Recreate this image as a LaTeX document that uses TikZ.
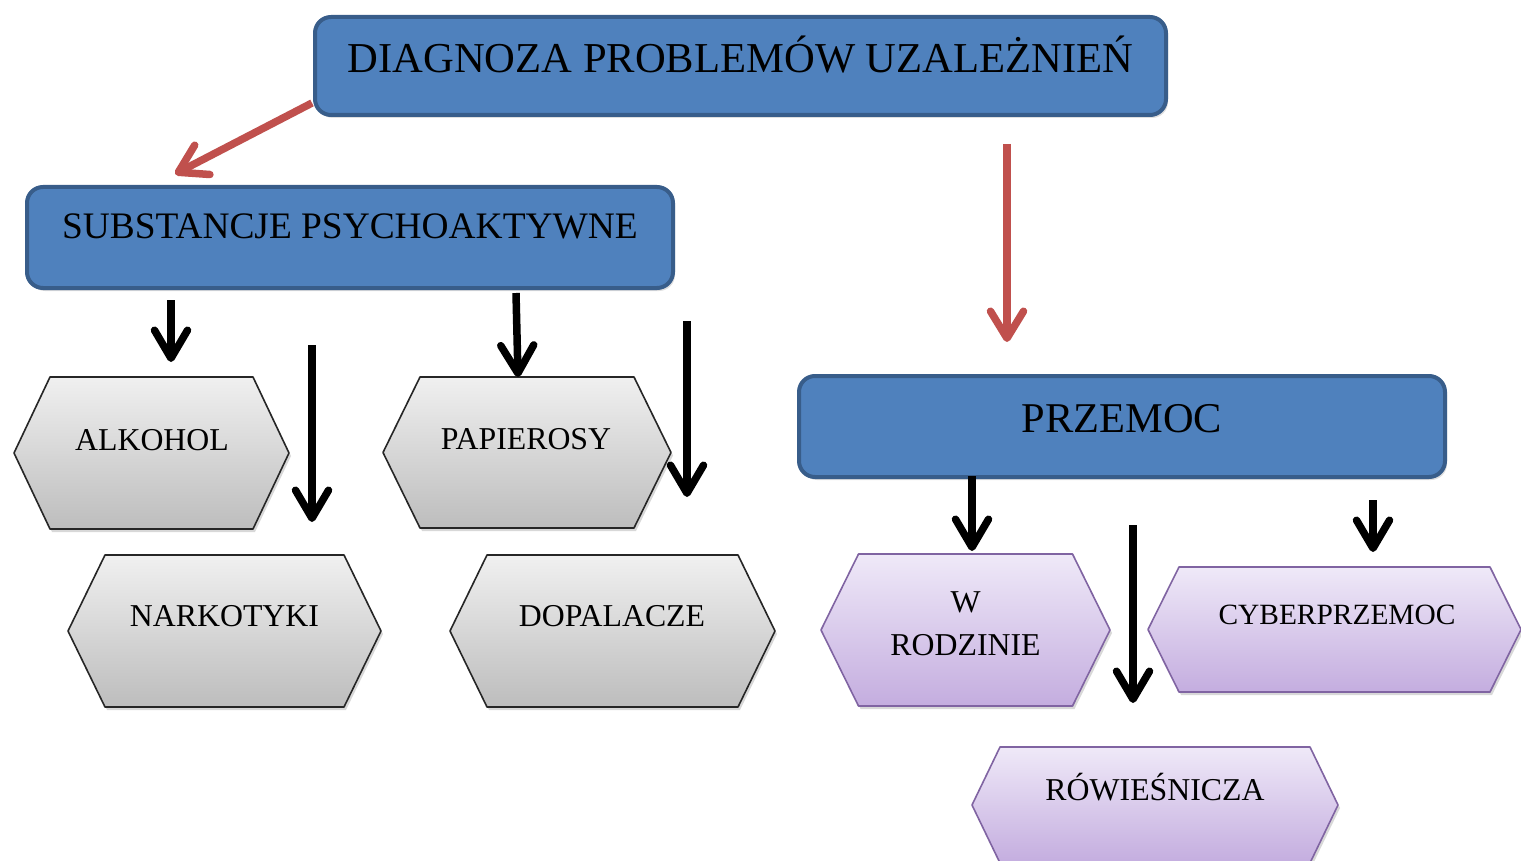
\documentclass[tikz,border=0pt]{standalone}
\usepackage{fontspec}
\setmainfont{Liberation Serif}
\usetikzlibrary{arrows.meta,shadows}
\definecolor{boxblue}{HTML}{4F81BD}
\definecolor{boxedge}{HTML}{385D8A}
\definecolor{redarrow}{HTML}{C0504D}
\definecolor{purpedge}{HTML}{8064A2}
\definecolor{purptop}{HTML}{EFE9F8}
\definecolor{purpbot}{HTML}{C4ADDF}
\definecolor{graytop}{HTML}{F0F0F0}
\definecolor{graybot}{HTML}{BDBDBD}
\newcommand\hexpath[6]{%
  \path[#1] (#2-#4,#3) -- (#2-#4+#6,#3-#5) -- (#2+#4-#6,#3-#5) -- (#2+#4,#3)
    -- (#2+#4-#6,#3+#5) -- (#2-#4+#6,#3+#5) -- cycle;}
\begin{document}
\begin{tikzpicture}[x=1pt,y=-1pt,
  bluebox/.style={draw=boxedge, line width=4pt, fill=boxblue, rounded corners=16pt,
    inner sep=0pt, drop shadow={opacity=0.25,shadow xshift=2pt,shadow yshift=-3pt}},
  grayhex/.style={draw=black!85, line width=1.6pt, top color=graytop, bottom color=graybot,
    line join=round, drop shadow={opacity=0.3,shadow xshift=2pt,shadow yshift=-3pt}},
  purphex/.style={draw=purpedge, line width=1.6pt, top color=purptop, bottom color=purpbot,
    line join=round, drop shadow={opacity=0.3,shadow xshift=2pt,shadow yshift=-3pt}},
  bigtxt/.style={font=\fontsize{42.6}{48}\selectfont, anchor=base, inner sep=0pt},
  midtxt/.style={font=\fontsize{37.4}{42}\selectfont, anchor=base, inner sep=0pt},
  hextxt/.style={font=\fontsize{31.8}{43}\selectfont, anchor=base, inner sep=0pt},
  blkarrow/.style={line width=7.5pt, black, -{Straight Barb[length=28pt,width=33pt,round]}},
  redarr/.style={line width=7.5pt, redarrow, -{Straight Barb[length=27pt,width=33pt,round]}},
]
\useasboundingbox (0,0) rectangle (1521,861);
\fill[white] (0,0) rectangle (1521,861);

% blue boxes
\node[bluebox, minimum width=851pt, minimum height=98pt] (topbox) at (740.5,66) {};
\node[bigtxt] (toptxt) at (740.5,73) {DIAGNOZA PROBLEMÓW UZALEŻNIEŃ};
\node[bluebox, minimum width=646pt, minimum height=101pt] (subbox) at (350,237.5) {};
\node[midtxt] (subtxt) at (350,239) {SUBSTANCJE PSYCHOAKTYWNE};
\node[bluebox, minimum width=646pt, minimum height=101pt] (przbox) at (1122,426.5) {};
\node[font=\fontsize{42.4}{48}\selectfont, anchor=base, inner sep=0pt] (prztxt) at (1122,432) {PRZEMOC};

% gray hexagons
\hexpath{grayhex}{151.5}{453}{137.5}{76}{36}
\node[hextxt] (alk) at (152,450) {ALKOHOL};
\hexpath{grayhex}{527}{452.5}{144}{75.5}{37}
\node[hextxt] (pap) at (526,449) {PAPIEROSY};
\hexpath{grayhex}{224.5}{631}{156.5}{76}{37}
\node[hextxt] (nar) at (224.5,626) {NARKOTYKI};
\hexpath{grayhex}{612.5}{631}{162.5}{76}{37}
\node[hextxt] (dop) at (612,626) {DOPALACZE};

% purple hexagons
\hexpath{purphex}{965.5}{630}{144.5}{76}{37.5}
\node[font=\fontsize{31.8}{43}\selectfont, align=center, inner sep=0pt] (wro) at (965.5,624) {W\\RODZINIE};
\hexpath{purphex}{1334.5}{629.5}{186.5}{62.5}{31}
\node[font=\fontsize{29.4}{35}\selectfont, anchor=base, inner sep=0pt] (cyb) at (1337,624) {CYBERPRZEMOC};
\hexpath{purphex}{1155}{805}{183}{58}{28}
\node[hextxt] (row) at (1155,800) {RÓWIEŚNICZA};

% arrow end points
\coordinate (r1s) at (312,103);
\coordinate (r1e) at (175,174);
\coordinate (r2s) at (1007,144);
\coordinate (r2e) at (1007,342);
\coordinate (b1s) at (171,300);
\coordinate (b1e) at (171,362);
\coordinate (b2s) at (312,345);
\coordinate (b2e) at (312,522);
\coordinate (b3s) at (516,293);
\coordinate (b3e) at (518,377);
\coordinate (b4s) at (687,321);
\coordinate (b4e) at (687,497);
\coordinate (b5s) at (972,476);
\coordinate (b5e) at (972,551);
\coordinate (b6s) at (1133,525);
\coordinate (b6e) at (1133,703);
\coordinate (b7s) at (1373,500);
\coordinate (b7e) at (1373,552);

\draw[redarr] (r1s) -- (r1e);
\draw[redarr] (r2s) -- (r2e);
\draw[blkarrow] (b1s) -- (b1e);
\draw[blkarrow] (b2s) -- (b2e);
\draw[blkarrow] (b3s) -- (b3e);
\draw[blkarrow] (b4s) -- (b4e);
\draw[blkarrow] (b5s) -- (b5e);
\draw[blkarrow] (b6s) -- (b6e);
\draw[blkarrow] (b7s) -- (b7e);
\end{tikzpicture}
\end{document}
